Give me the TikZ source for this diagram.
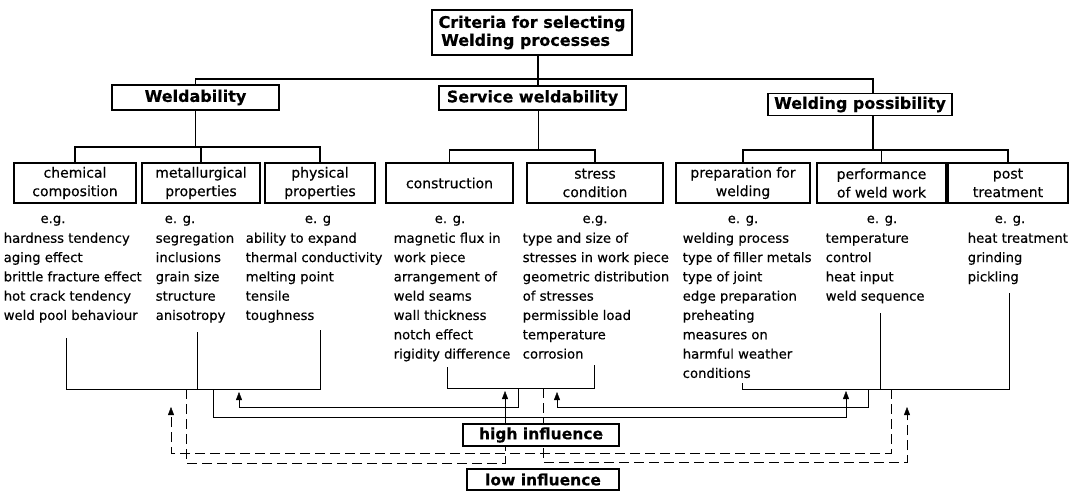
\documentclass[tikz,border=0pt]{standalone}
\usepackage{fontspec}
\setmainfont{DejaVu Sans}[FakeBold=0.4]
\usetikzlibrary{arrows.meta}
\pgfdeclarelayer{bg}
\pgfsetlayers{bg,main}
\begin{document}
\begin{tikzpicture}[x=1pt,y=-1pt,line width=1.5pt,
  mainbox/.style={draw,line width=1.6pt,fill=white,inner sep=0pt,font=\bfseries\fontsize{16}{18}\selectfont},
  subbox/.style={draw,line width=1.6pt,fill=white,inner sep=0pt,minimum height=40pt,align=center,font=\fontsize{14}{18.5}\selectfont},
  infbox/.style={draw,line width=1.6pt,fill=white,inner sep=0pt,font=\bfseries\fontsize{15.5}{17}\selectfont},
  lst/.style={anchor=north west,inner sep=0pt,align=left,font=\fontsize{13.2}{19.3}\selectfont},
  eg/.style={anchor=base,inner sep=0pt,font=\fontsize{13.2}{16}\selectfont},
  arr/.style={-{Triangle[length=8pt,width=6pt]}},
  dsh/.style={dash pattern=on 10pt off 5pt},
]
\useasboundingbox (0,0) rectangle (1070,493);

% ---------- top level ----------
\node[mainbox,minimum width=200pt,minimum height=45pt,align=left] (title) at (532,32.5) {Criteria for selecting\\ \,Welding processes};
\node[mainbox,minimum width=167pt,minimum height=25pt] (weld) at (195.5,97.5) {Weldability};
\node[mainbox,minimum width=187pt,minimum height=24pt] (service) at (532.5,98) {Service weldability};
\node[mainbox,minimum width=184pt,minimum height=22pt] (wp) at (860,104.5) {Welding possibility};

% ---------- sub boxes ----------
\node[subbox,minimum width=122pt] (chem) at (75,183) {chemical\\composition};
\node[subbox,minimum width=118pt] (met) at (201,183) {metallurgical\\properties};
\node[subbox,minimum width=110pt] (phys) at (320,183) {physical\\properties};
\node[subbox,minimum width=127pt] (constr) at (449.5,183) {construction};
\node[subbox,minimum width=136pt] (stress) at (595,183) {stress\\condition};
\node[subbox,minimum width=134pt] (prep) at (743,183) {preparation for\\welding};
\node[subbox,minimum width=129pt] (perf) at (881.5,183) {performance\\of weld work};
\node[subbox,minimum width=120pt] (post) at (1008,183) {post\\treatment};

% ---------- tree connectors ----------
\coordinate (bus1) at (0,79);
\coordinate (bus2) at (0,147);
\coordinate (bus3) at (0,150);
\coordinate (wpx) at (873,0);
\draw ([xshift=6pt]title.south) -- ([xshift=6pt]title.south |- service.north);
\draw (weld.north) -- (weld.north |- bus1) -| (wpx |- wp.north);
\draw (wpx |- wp.south) -- (wpx |- bus3);
\draw (weld.south) -- (weld.south |- bus2);
\draw (chem.north) -- (chem.north |- bus2) -| (phys.north);
\draw (met.north) -- (met.north |- bus2);
\draw ([xshift=6pt]service.south) -- ([xshift=6pt]service.south |- bus3);
\draw (constr.north) -- (constr.north |- bus3) -| (stress.north);
\draw (prep.north) -- (prep.north |- bus3) -| (post.north);
\draw (perf.north) -- (perf.north |- bus3);

% ---------- e.g. labels ----------
\node[eg] (chemE) at (53,223) {e.g.};
\node[eg] (metE) at (180,223) {e. g.};
\node[eg] (physE) at (318,223) {e. g};
\node[eg] (constrE) at (450,223) {e. g.};
\node[eg] (stressE) at (595,223) {e.g.};
\node[eg] (prepE) at (743,223) {e. g.};
\node[eg] (perfE) at (882,223) {e. g.};
\node[eg] (postE) at (1010,223) {e. g.};

% ---------- lists ----------
\node[lst] (chemL) at (3,228.5) {\strut hardness tendency\\ aging effect\\ brittle fracture effect\\ hot crack tendency\\ weld pool behaviour};
\node[lst] (metL) at (155,228.5) {\strut segregation\\ inclusions\\ grain size\\ structure\\ anisotropy};
\node[lst] (physL) at (245,228.5) {\strut ability to expand\\ thermal conductivity\\ melting point\\ tensile\\ toughness};
\node[lst] (constrL) at (393,228.5) {\strut magnetic flux in\\ work piece\\ arrangement of\\ weld seams\\ wall thickness\\ notch effect\\ rigidity difference};
\node[lst] (stressL) at (522,228.5) {\strut type and size of\\ stresses in work piece\\ geometric distribution\\ of stresses\\ permissible load\\ temperature\\ corrosion};
\node[lst] (prepL) at (682,228.5) {\strut welding process\\ type of filler metals\\ type of joint\\ edge preparation\\ preheating\\ measures on\\ harmful weather\\ conditions};
\node[lst] (perfL) at (825,228.5) {\strut temperature\\ control\\ heat input\\ weld sequence};
\node[lst] (postL) at (967,228.5) {\strut heat treatment\\ grinding\\ pickling};

% ---------- influence boxes ----------
\node[infbox,minimum width=156pt,minimum height=22pt] (hi) at (541,435) {high influence};
\node[infbox,minimum width=152pt,minimum height=21pt] (lo) at (543,479.5) {low influence};

% ---------- bottom brackets and influence connectors ----------
\coordinate (jA) at (213,389);
\coordinate (jA2) at (186,389);
\coordinate (aA1) at (239,392);
\coordinate (aA2) at (171,407);
\coordinate (jB) at (518,388);
\coordinate (jB2) at (543,388);
\coordinate (aB1) at (505,391);
\coordinate (aB2) at (557,392);
\coordinate (jC) at (868,389);
\coordinate (jC2) at (891,389);
\coordinate (aC1) at (846,391);
\coordinate (aC2) at (907,407);

\begin{pgfonlayer}{bg}
% brackets
\draw (66,338) -- (66,389) -- (320,389) -- (320,330);
\draw (197,332) -- (197,389);
\draw (447,367) -- (447,388) -- (594,388) -- (594,365);
\draw (742,383) -- (742,389) -- (1009,389) -- (1009,293);
\draw (880,313) -- (880,389);
% high influence (solid)
\draw[arr] (jA) -- ++(0,28) -| (aC1);
\draw[arr] (jB) -- ++(0,19) -| (aA1);
\draw[arr] (jC) -- ++(0,18) -| (aB2);
\draw[arr] (hi.north -| aB1) -- (aB1);
% low influence (dashed)
\draw[arr,dsh] (jC2) -- ++(0,64) -| (aA2);
\draw[dsh] (jA2) -- ++(0,74) -| (hi.south -| aB1);
\draw[arr,dsh] (jB2) -- ++(0,74) -| (aC2);
\end{pgfonlayer}
\end{tikzpicture}
\end{document}
